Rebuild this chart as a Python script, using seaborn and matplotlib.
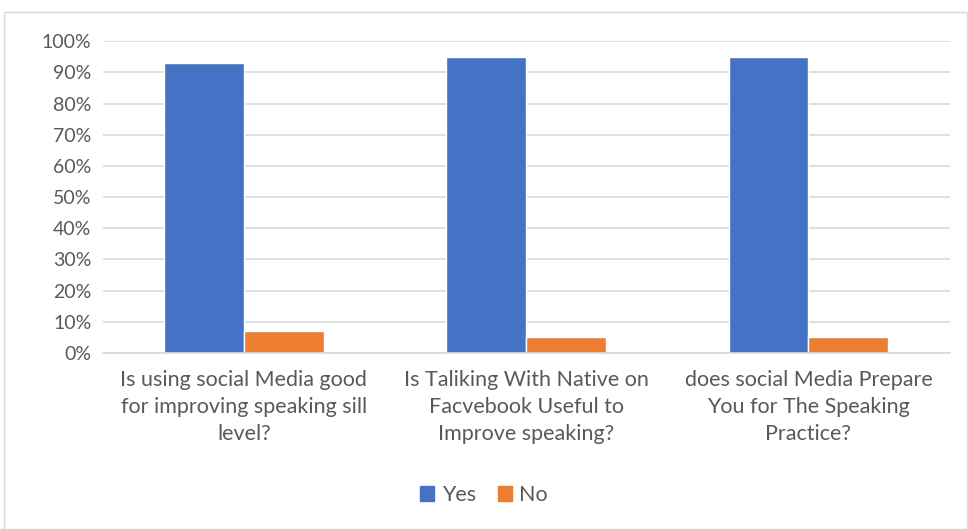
import matplotlib
matplotlib.use("Agg")
import matplotlib.pyplot as plt
import pandas as pd
import seaborn as sns
from matplotlib.ticker import PercentFormatter
from matplotlib.patches import Rectangle

questions = [
    "Is using social Media good\nfor improving speaking sill\nlevel?",
    "Is Taliking With Native on\nFacvebook Useful to\nImprove speaking?",
    "does social Media Prepare\nYou for The Speaking\nPractice?",
]
yes_vals = [0.93, 0.95, 0.95]
no_vals = [0.07, 0.05, 0.05]
series = ["Yes", "No"]
colors = ["#4472C4", "#ED7D31"]

df = pd.DataFrame({
    "question": questions * 2,
    "answer": ["Yes"] * 3 + ["No"] * 3,
    "value": yes_vals + no_vals,
})

sns.set_style("white")
plt.rcParams["font.family"] = ["Lato", "DejaVu Sans"]

fig = plt.figure(figsize=(9.68, 5.29), dpi=100)
ax = fig.add_axes([0.106, 0.333, 0.875, 0.589])

sns.barplot(data=df, x="question", y="value", hue="answer", hue_order=series,
            palette=colors, width=0.565, saturation=1, ax=ax, legend=False)

ax.set_ylim(0, 1.0)
ax.set_yticks([i / 10 for i in range(11)])
ax.yaxis.set_major_formatter(PercentFormatter(1.0, decimals=0))
ax.grid(axis="y", color="#D9D9D9", linewidth=1.2)
ax.set_axisbelow(True)
for s in ["top", "right", "left"]:
    ax.spines[s].set_visible(False)
ax.spines["bottom"].set_color("#D9D9D9")
ax.spines["bottom"].set_linewidth(1.2)
ax.tick_params(axis="y", length=0, labelsize=14, labelcolor="#595959", pad=8)
ax.tick_params(axis="x", length=0, labelsize=15.5, labelcolor="#595959", pad=12)
ax.set_xlabel("")
ax.set_ylabel("")
for lbl in ax.get_xticklabels():
    lbl.set_linespacing(1.45)

handles = [Rectangle((0, 0), 1, 1, color=c) for c in colors]
fig.legend(handles, series, loc="center", bbox_to_anchor=(0.5, 0.064), ncol=2,
           frameon=False, fontsize=15.5, handlelength=0.65, handleheight=0.65,
           columnspacing=1.0, handletextpad=0.35, labelcolor="#595959")

# chart border
fig.patches.append(Rectangle((0.004, 0.0), 0.995, 0.977, transform=fig.transFigure,
                             fill=False, edgecolor="#D9D9D9", linewidth=1))

fig.savefig("out.png", dpi=100)
